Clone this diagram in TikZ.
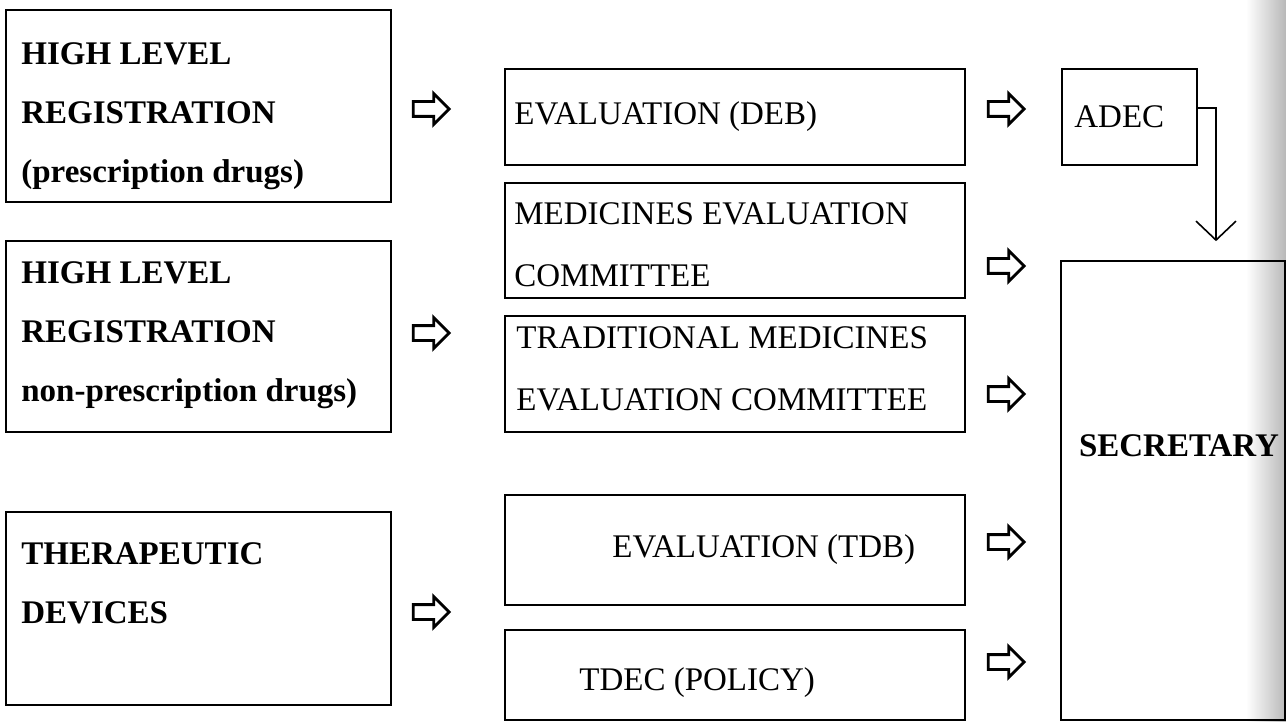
\documentclass[tikz,border=0pt]{standalone}
\usepackage{fontspec}
\setmainfont{Liberation Serif}
\usetikzlibrary{arrows.meta, positioning, shapes.arrows, backgrounds}

\begin{document}
\begin{tikzpicture}[
    x=1pt, y=-1pt,
    lbox/.style={
        rectangle, draw=black, line width=1.6pt,
        minimum width=385pt, inner sep=0pt,
    },
    mbox/.style={
        rectangle, draw=black, line width=1.6pt,
        minimum width=460pt, inner sep=0pt,
    },
    ltext/.style={font=\bfseries\fontsize{33}{59}\selectfont, align=left, inner sep=0pt},
    mtext/.style={font=\fontsize{33}{62}\selectfont, align=left, inner sep=0pt},
    warrow/.style={
        single arrow, draw=black, line width=2.8pt,
        minimum height=36pt, minimum width=29pt,
        inner ysep=6pt, inner xsep=0pt,
        single arrow head extend=8pt,
    },
    varr/.style={line width=1.6pt, -{Straight Barb[length=19pt, width=40pt]}},
]
\useasboundingbox (0,0) rectangle (1286,722);

% === LEFT: registration routes ===
\node[lbox, minimum height=192pt] (reg1) at (198.5,106) {};
\node[lbox, minimum height=191pt] (reg2) at (198.5,336.5) {};
\node[lbox, minimum height=193pt] (dev) at (198.5,608.5) {};

\node[ltext, below right=33pt and 16pt of reg1.north west] (reg1t) {HIGH LEVEL\\REGISTRATION\\(prescription drugs)};
\node[ltext, below right=21pt and 16pt of reg2.north west] (reg2t) {HIGH LEVEL\\REGISTRATION\\non-prescription drugs)};
\node[ltext, below right=31pt and 16pt of dev.north west] (devt) {THERAPEUTIC\\DEVICES};

% === MIDDLE: evaluation bodies ===
\node[mbox, minimum height=96pt] (deb) at (735,117) {};
\node[mbox, minimum height=115pt] (mec) at (735,240.5) {};
\node[mbox, minimum height=116pt] (tmec) at (735,374) {};
\node[mbox, minimum height=110pt] (tdb) at (735,550) {};
\node[mbox, minimum height=90pt] (tdec) at (735,675) {};

\node[mtext, right=10pt of deb.west] (debt) {EVALUATION (DEB)};
\node[mtext, below right=20pt and 10pt of mec.north west] (mect) {MEDICINES EVALUATION\\COMMITTEE};
\node[mtext, below right=11pt and 12pt of tmec.north west] (tmect) {TRADITIONAL MEDICINES\\EVALUATION COMMITTEE};
\node[mtext, right=108pt of tdb.west] (tdbt) {EVALUATION (TDB)};
\node[mtext, right=75pt of tdec.west, yshift=-8pt] (tdect) {TDEC (POLICY)};

% === RIGHT: ADEC and secretary ===
\node[rectangle, draw=black, line width=1.6pt, minimum width=135pt, minimum height=96pt] (adec) at (1129.5,117) {};
\node[mtext, right=13pt of adec.west] (adect) {ADEC};
\node[rectangle, draw=black, line width=1.6pt, minimum width=224pt, minimum height=459pt] (sec) at (1173,490.5) {};
\node[ltext] (sect) at ([xshift=6pt, yshift=45pt]sec.center) {SECRETARY};

\draw[varr] ([yshift=9pt]adec.east) -| ([xshift=43pt, yshift=19pt]sec.north);

% Outline arrows
\node[warrow] (g1) at (427.5,109) {};
\node[warrow] (g2) at (427.5,333) {};
\node[warrow] (g3) at (427.5,612) {};
\node[warrow] (g4) at (1002.5,109) {};
\node[warrow] (g5) at (1002.5,266) {};
\node[warrow] (g6) at (1002.5,394) {};
\node[warrow] (g7) at (1002.5,542) {};
\node[warrow] (g8) at (1002.5,662) {};

% Scan shadow at the page edge
\begin{scope}[on background layer]
    \shade[left color=white, right color=black!28] (1246,0) rectangle (1286,722);
\end{scope}

\end{tikzpicture}
\end{document}
